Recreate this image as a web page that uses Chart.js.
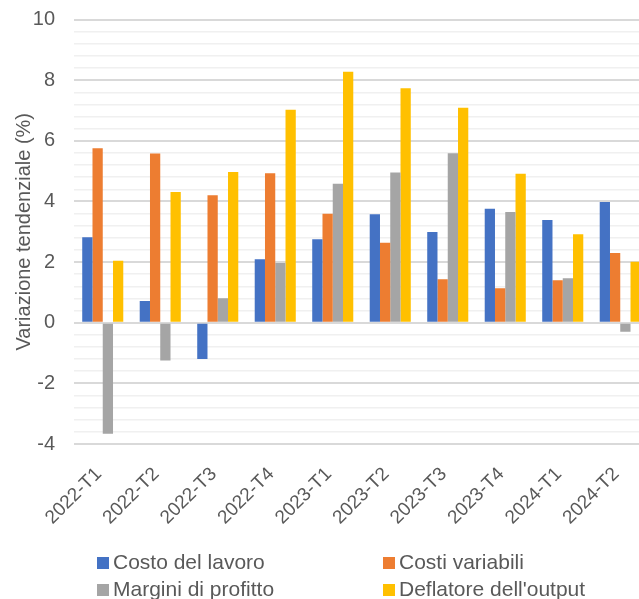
<!DOCTYPE html>
<html lang="it">
<head>
<meta charset="utf-8">
<title>Variazione tendenziale</title>
<script src="https://cdn.jsdelivr.net/npm/chart.js@4/dist/chart.umd.min.js"></script>
<style>
  html, body { margin: 0; padding: 0; background: #ffffff; overflow: hidden; }
  #wrap { position: relative; width: 639px; height: 599px; overflow: hidden; }
  #chart { display: block; }
  .legend { position: absolute; font-family: "Liberation Sans", Arial, sans-serif; font-size: 21px; color: #595959; white-space: nowrap; line-height: 1; }
  .legend .box { display: inline-block; width: 12px; height: 12px; margin-right: 4px; vertical-align: 0; }
</style>
</head>
<body>
<div id="wrap">
  <canvas id="chart" width="649" height="599"></canvas>
  <div id="legend"></div>
</div>
<script>
// Trimestri
const categories = ['2022-T1', '2022-T2', '2022-T3', '2022-T4', '2023-T1', '2023-T2', '2023-T3', '2023-T4', '2024-T1', '2024-T2'];

// Variazioni tendenziali (%)
const costoLavoro    = [2.82, 0.72, -1.20, 2.09, 2.75, 3.58, 2.99, 3.76, 3.39, 3.98];
const costiVariabili = [5.75, 5.58, 4.20, 4.93, 3.59, 2.64, 1.43, 1.14, 1.40, 2.30];
const marginiProfitto = [-3.66, -1.25, 0.81, 1.97, 4.58, 4.95, 5.59, 3.65, 1.47, -0.30];
const deflatoreOutput = [2.04, 4.31, 4.97, 7.02, 8.28, 7.73, 7.09, 4.91, 2.92, 2.01];

const seriesNames = ['Costo del lavoro', 'Costi variabili', 'Margini di profitto', "Deflatore dell'output"];
const seriesColors = ['#4472C4', '#ED7D31', '#A5A5A5', '#FFC000'];
const seriesValues = [costoLavoro, costiVariabili, marginiProfitto, deflatoreOutput];

// Asse verticale: linee principali ogni 2, secondarie ogni 0,4
const yMin = -4, yMax = 10, yMajor = 2, yMinor = 0.4;

const isMajor = v => Math.abs(v / yMajor - Math.round(v / yMajor)) < 1e-6;

const FONT = '"Liberation Sans", Arial, sans-serif';

new Chart(document.getElementById('chart'), {
  type: 'bar',
  data: {
    labels: categories,
    datasets: seriesNames.map((name, i) => ({
      label: name,
      data: seriesValues[i],
      backgroundColor: seriesColors[i],
      borderWidth: 0,
      categoryPercentage: 0.714,
      barPercentage: 1.0
    }))
  },
  options: {
    responsive: false,
    devicePixelRatio: 1,
    animation: false,
    layout: { padding: { left: 14, top: 0, right: 0, bottom: 66 } },
    plugins: {
      legend: { display: false },
      tooltip: { enabled: false }
    },
    scales: {
      x: {
        grid: { display: false, drawTicks: false },
        border: { display: false },
        // fixed band for the slanted labels; the first one may run off the left edge
        afterFit: scale => {
          scale.height = 89;
          scale.paddingLeft = 0;
          scale.paddingRight = 0;
        },
        ticks: {
          minRotation: 45,
          maxRotation: 45,
          autoSkip: false,
          padding: 19,
          labelOffset: -4,
          color: '#595959',
          font: { family: FONT, size: 19 }
        }
      },
      y: {
        min: yMin,
        max: yMax,
        border: { display: false },
        afterFit: scale => {
          scale.width = 60;
          scale.paddingTop = 19.5;
          scale.paddingBottom = 0;
        },
        grid: {
          drawTicks: false,
          lineWidth: ctx => isMajor(ctx.tick.value) ? 2 : 1.5,
          color: ctx => isMajor(ctx.tick.value) ? '#d9d9d9' : '#f0f0f0'
        },
        ticks: {
          stepSize: yMinor,
          autoSkip: false,
          padding: 19,
          color: '#595959',
          font: { family: FONT, size: 20 },
          callback: v => isMajor(v) ? String(Math.round(v)) : ''
        },
        title: {
          display: true,
          text: 'Variazione tendenziale (%)',
          color: '#595959',
          font: { family: FONT, size: 20, lineHeight: 1 },
          padding: { top: 0, bottom: 0 }
        }
      }
    }
  }
});

// Legenda su due colonne
const legendPos = [
  { left: 97, top: 551 },
  { left: 383, top: 551 },
  { left: 97, top: 578 },
  { left: 383, top: 578 }
];
const legendEl = document.getElementById('legend');
seriesNames.forEach((name, i) => {
  const item = document.createElement('div');
  item.className = 'legend';
  item.style.left = legendPos[i].left + 'px';
  item.style.top = legendPos[i].top + 'px';
  const box = document.createElement('span');
  box.className = 'box';
  box.style.background = seriesColors[i];
  item.appendChild(box);
  item.appendChild(document.createTextNode(name));
  legendEl.appendChild(item);
});
</script>
</body>
</html>
